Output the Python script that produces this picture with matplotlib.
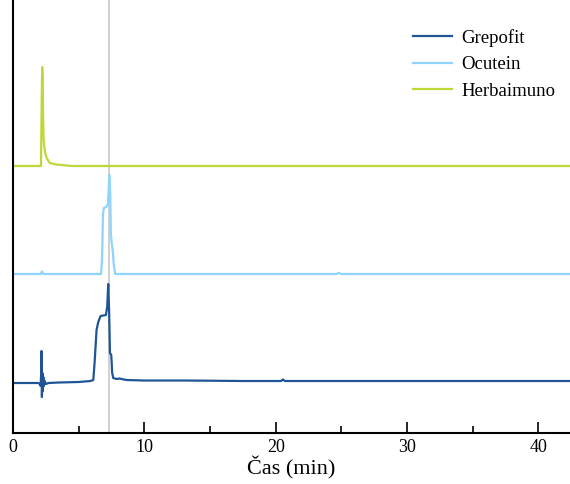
import numpy as np
import matplotlib
matplotlib.use("Agg")
import matplotlib.pyplot as plt

# chromatogram traces, time in min, signal relative to baseline (arb. units)
grepofit_t = [0.0, 1.9, 2.05, 2.1, 2.14, 2.17, 2.2, 2.24, 2.27, 2.31, 2.35, 2.42, 2.5, 2.7,
              3.5, 5.0, 5.9, 6.11, 6.21, 6.36, 6.49, 6.67, 7.07, 7.17, 7.25, 7.32, 7.38,
              7.48, 7.55, 7.63, 7.88, 8.1, 8.27, 8.45, 8.65, 10.0, 13.0, 17.5, 20.4, 20.55,
              20.7, 25.0, 30.0, 36.0, 42.5]
grepofit_y = [0.0, 0.0, -1.0, -3.0, 8.0, 32.0, -14.0, 10.0, -8.0, 6.0, -3.0, 2.0, -1.0, 0.0,
              0.5, 1.0, 2.0, 3.0, 20.0, 53.0, 61.0, 67.0, 68.0, 76.0, 99.0, 70.0, 30.0,
              28.0, 10.0, 5.0, 4.0, 4.5, 4.0, 3.5, 3.0, 2.5, 2.5, 2.0, 2.0, 3.5,
              2.0, 2.0, 2.0, 2.0, 2.0]

ocutein_t = [0.0, 2.1, 2.2, 2.3, 6.70, 6.78, 6.85, 6.92, 7.10, 7.22, 7.27, 7.33, 7.40,
             7.45, 7.52, 7.60, 7.68, 7.78, 24.6, 24.8, 25.0, 42.5]
ocutein_y = [0.0, 0.0, 2.5, 0.0, 0.0, 15.0, 60.0, 66.0, 67.0, 70.0, 80.0, 99.0, 80.0,
             40.0, 30.0, 22.0, 8.0, 0.0, 0.0, 1.0, 0.0, 0.0]

herbaimuno_t = [0.0, 2.13, 2.18, 2.22, 2.26, 2.29, 2.33, 2.42, 2.56, 2.8, 3.3, 4.5, 42.5]
herbaimuno_y = [0.0, 0.0, 60.0, 99.0, 90.0, 50.0, 26.0, 15.0, 8.0, 3.0, 1.5, 0.0, 0.0]

names = ["Grepofit", "Ocutein", "Herbaimuno"]
colors = ["#1f5597", "#8fd3ff", "#bcd93a"]
marker_time = 7.32

plt.rcParams["font.family"] = ["Liberation Serif", "DejaVu Serif"]

fig = plt.figure(figsize=(5.7, 4.84), dpi=100)
ax = fig.add_axes([13 / 570, 51 / 484, 557 / 570, 433 / 484])

offsets = [50, 159, 267]
traces = [(grepofit_t, grepofit_y), (ocutein_t, ocutein_y), (herbaimuno_t, herbaimuno_y)]
for (t, y), off, c, n in zip(traces, offsets, colors, names):
    ax.plot(t, np.array(y) + off, color=c, lw=1.6, label=n)

ax.axvline(marker_time, color="#c8c8c8", lw=1.2, zorder=0)

ax.set_xlim(0, 42.4)
ax.set_ylim(0, 433)
ax.set_yticks([])
ax.set_xticks([0, 10, 20, 30, 40])
ax.set_xticks([5, 15, 25, 35], minor=True)
ax.tick_params(axis="x", which="major", direction="in", length=8, width=1.2, labelsize=13, pad=4)
ax.tick_params(axis="x", which="minor", direction="in", length=5, width=1.2)
for s in ["top", "right"]:
    ax.spines[s].set_visible(False)
for s in ["left", "bottom"]:
    ax.spines[s].set_linewidth(1.5)
ax.set_xlabel("Čas (min)", fontsize=16, labelpad=1)

ax.legend(loc="upper left", bbox_to_anchor=(413 / 570, 1 - 29 / 484),
          bbox_transform=fig.transFigure, frameon=False, fontsize=13.5, borderpad=0,
          borderaxespad=0, handlelength=2.1, handletextpad=0.5, labelspacing=0.5)

fig.savefig("out.png", dpi=100)
